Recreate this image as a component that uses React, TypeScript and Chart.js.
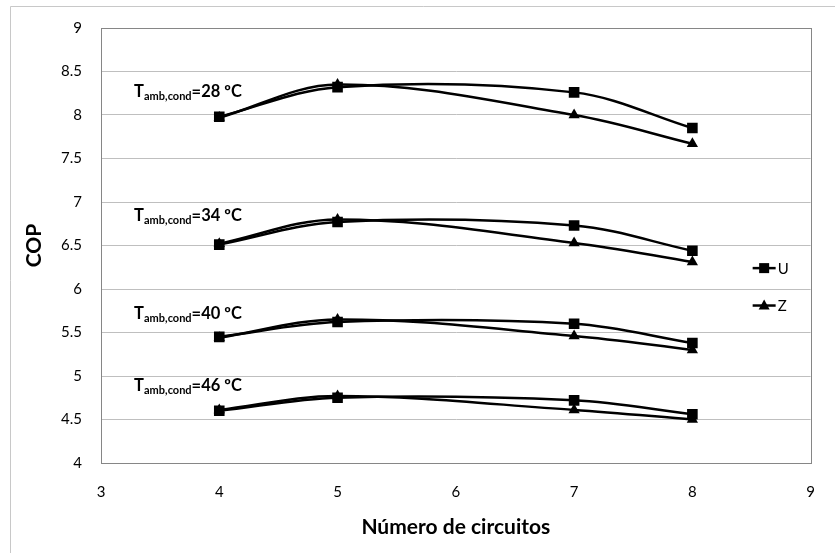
import React, { useEffect, useRef } from "react";
import { Chart, registerables } from "chart.js";

Chart.register(...registerables);

const circuits = [4, 5, 7, 8];
const temps = ["28", "34", "40", "46"];
const U28 = [7.98, 8.32, 8.26, 7.85];
const Z28 = [7.97, 8.35, 8.0, 7.67];
const U34 = [6.51, 6.77, 6.73, 6.44];
const Z34 = [6.52, 6.8, 6.53, 6.31];
const U40 = [5.45, 5.62, 5.6, 5.38];
const Z40 = [5.44, 5.65, 5.46, 5.3];
const U46 = [4.6, 4.75, 4.72, 4.56];
const Z46 = [4.61, 4.77, 4.61, 4.5];
const seriesU = [U28, U34, U40, U46];
const seriesZ = [Z28, Z34, Z40, Z46];
const labelX = 3.28;
const labelY = [8.206, 6.778, 5.655, 4.828];
const legendLabels = ["U", "Z"];

const FONT = "Lato, 'Open Sans', sans-serif";

const decorPlugin = {
  id: "decor",
  beforeDraw(chart: any) {
    const ctx = chart.ctx;
    ctx.save();
    ctx.fillStyle = "#ffffff";
    ctx.fillRect(0, 0, chart.width, chart.height);
    ctx.strokeStyle = "#c8c8c8";
    ctx.lineWidth = 1;
    ctx.beginPath();
    ctx.moveTo(10.5, chart.height + 2);
    ctx.lineTo(10.5, 6.5);
    ctx.lineTo(chart.width + 2, 6.5);
    ctx.stroke();
    ctx.restore();
  },
  afterDatasetsDraw(chart: any) {
    const ctx = chart.ctx;
    const { left, right, top, bottom } = chart.chartArea;
    const xs = chart.scales.x;
    const ys = chart.scales.y;
    ctx.save();
    ctx.strokeStyle = "#868686";
    ctx.lineWidth = 1;
    ctx.strokeRect(Math.round(left) + 0.5, Math.round(top) + 0.5, Math.round(right - left), Math.round(bottom - top));

    // temperature labels
    ctx.fillStyle = "#000";
    ctx.textBaseline = "alphabetic";
    ctx.textAlign = "left";
    temps.forEach((t, i) => {
      let x = xs.getPixelForValue(labelX);
      const y = ys.getPixelForValue(labelY[i]);
      ctx.font = `bold 16.5px ${FONT}`;
      ctx.fillText("T", x, y);
      x += ctx.measureText("T").width;
      ctx.font = `bold 11px ${FONT}`;
      ctx.fillText("amb,cond", x, y + 3);
      x += ctx.measureText("amb,cond").width;
      ctx.font = `bold 16.5px ${FONT}`;
      ctx.fillText("=" + t + " ºC", x, y);
    });

    // legend
    const lx = right - 58;
    const ly = [ys.getPixelForValue(6.24), ys.getPixelForValue(5.81)];
    legendLabels.forEach((lab, i) => {
      const y = ly[i];
      ctx.strokeStyle = "#000";
      ctx.lineWidth = 2.5;
      ctx.beginPath();
      ctx.moveTo(lx, y);
      ctx.lineTo(lx + 23, y);
      ctx.stroke();
      ctx.fillStyle = "#000";
      const cx = lx + 11.5;
      if (i === 0) {
        ctx.fillRect(cx - 5, y - 5, 10, 10);
      } else {
        ctx.beginPath();
        ctx.moveTo(cx, y - 6);
        ctx.lineTo(cx + 5.5, y + 4);
        ctx.lineTo(cx - 5.5, y + 4);
        ctx.closePath();
        ctx.fill();
      }
      ctx.font = `15px ${FONT}`;
      ctx.textBaseline = "middle";
      ctx.fillText(lab, lx + 25, y + 1);
    });
    ctx.restore();
  },
};

export default function App() {
  const ref = useRef<HTMLCanvasElement>(null);
  useEffect(() => {
    document.body.style.margin = "0";
    const datasets: any[] = [];
    temps.forEach((t, i) => {
      datasets.push({
        label: "U " + t,
        data: circuits.map((c, j) => ({ x: c, y: seriesU[i][j] })),
        borderColor: "#000",
        backgroundColor: "#000",
        borderWidth: 2.5,
        pointStyle: "rect",
        pointRadius: 7.5,
        pointBorderWidth: 0,
        tension: 0.35,
      });
      datasets.push({
        label: "Z " + t,
        data: circuits.map((c, j) => ({ x: c, y: seriesZ[i][j] })),
        borderColor: "#000",
        backgroundColor: "#000",
        borderWidth: 2.5,
        pointStyle: "triangle",
        pointRadius: 6.5,
        pointBorderWidth: 0,
        tension: 0.35,
      });
    });
    const chart = new Chart(ref.current!, {
      type: "line",
      data: { datasets },
      options: {
        responsive: false,
        animation: false,
        layout: { padding: { top: 22, right: 5, left: 0, bottom: 0 } },
        plugins: { legend: { display: false }, tooltip: { enabled: false } },
        scales: {
          x: {
            type: "linear",
            min: 3,
            max: 9,
            ticks: { stepSize: 1, padding: 20, color: "#000", font: { family: FONT, size: 15 } },
            grid: { display: false, drawTicks: false },
            border: { color: "#868686" },
            title: {
              display: true,
              text: "Número de circuitos",
              color: "#000",
              font: { family: FONT, size: 21, weight: "bold" },
              padding: { top: 0, bottom: 13 },
            },
            afterFit: (s: any) => {
              s.height = 90;
            },
          },
          y: {
            type: "linear",
            min: 4,
            max: 9,
            ticks: {
              stepSize: 0.5,
              padding: 19,
              color: "#000",
              font: { family: FONT, size: 15 },
              callback: (v: any) => String(Math.round(Number(v) * 10) / 10),
            },
            grid: { color: "#bfbfbf", drawTicks: false },
            border: { color: "#868686" },
            title: {
              display: true,
              text: "COP",
              color: "#000",
              font: { family: FONT, size: 21, weight: "bold" },
              padding: { top: 22, bottom: 0 },
            },
            afterFit: (s: any) => {
              s.width = 101;
            },
          },
        },
      },
      plugins: [decorPlugin],
    });
    return () => chart.destroy();
  }, []);
  return (
    <div style={{ width: 835, height: 553 }}>
      <canvas ref={ref} width={835} height={553} />
    </div>
  );
}
